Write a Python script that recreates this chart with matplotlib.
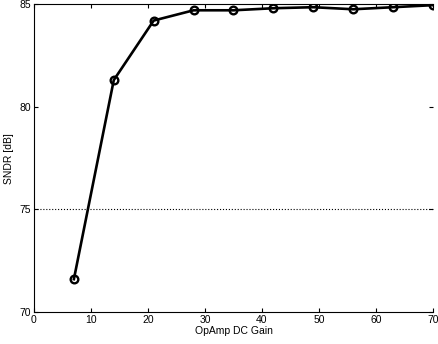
import numpy as np
from matplotlib import pyplot as plt

gain = [7, 14, 21, 28, 35, 42, 49, 56, 63, 70]
sndr = [71.6, 81.3, 84.2, 84.7, 84.7, 84.8, 84.85, 84.75, 84.85, 84.95]

plt.rcParams['font.family'] = ['Liberation Sans', 'DejaVu Sans']
plt.rcParams['font.size'] = 7.5

fig = plt.figure(figsize=(4.38, 3.44), dpi=100)
ax = fig.add_axes([0.0776, 0.093, 0.911, 0.895])

ax.plot(gain, sndr, 'k-', lw=1.9, marker='o', markersize=5.5,
        markerfacecolor='none', markeredgewidth=1.7)
ax.axhline(75, color='k', ls=':', lw=0.8)

ax.set_xlim(0, 70)
ax.set_ylim(70, 85)
ax.set_xticks(np.arange(0, 71, 10))
ax.set_yticks([70, 75, 80, 85])
ax.tick_params(direction='in', length=3, width=0.8, top=True, right=True, pad=2)
ax.spines['right'].set_visible(False)
for s in ['left', 'bottom', 'top']:
    ax.spines[s].set_linewidth(0.8)

ax.set_xlabel('OpAmp DC Gain', labelpad=1)
ax.set_ylabel('SNDR [dB]', labelpad=4)

fig.savefig('out.png')
